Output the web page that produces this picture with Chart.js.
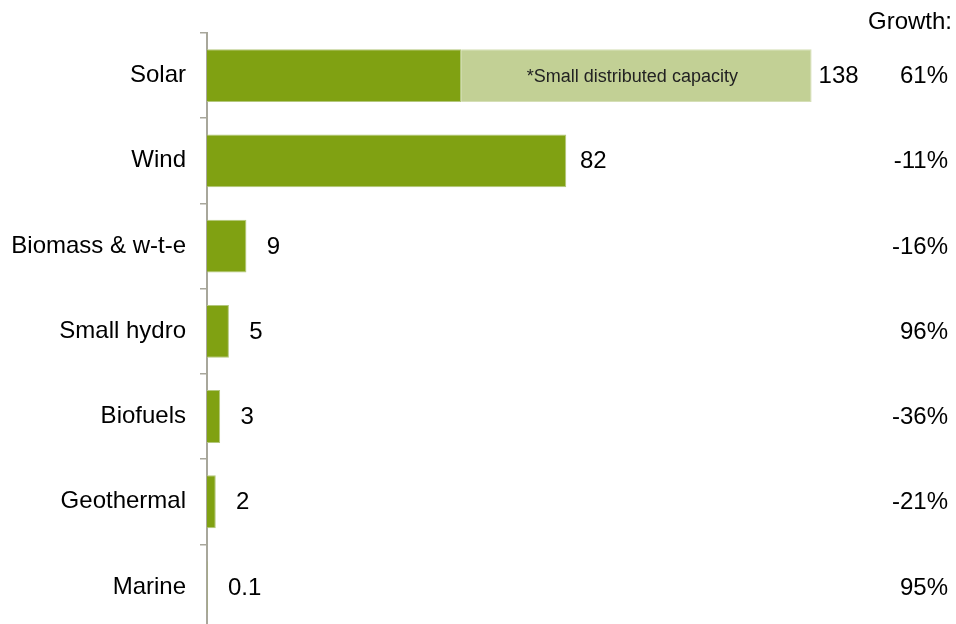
<!DOCTYPE html>
<html>
<head>
<meta charset="utf-8">
<script src="https://cdn.jsdelivr.net/npm/chart.js@4.4.1/dist/chart.umd.min.js"></script>
<style>
  html, body { margin: 0; padding: 0; background: #fff; overflow: hidden; }
  #wrap { width: 956px; height: 624px; overflow: hidden; }
</style>
</head>
<body>
<div id="wrap"><canvas id="chart" width="956" height="658"></canvas></div>
<script>
// 数据
const categories = ['Solar', 'Wind', 'Biomass & w-t-e', 'Small hydro', 'Biofuels', 'Geothermal', 'Marine'];
const mainCapacity = [58, 82, 9, 5, 3, 2, 0.1];
const distributedCapacity = [80, 0, 0, 0, 0, 0, 0];
const totalLabels = ['138', '82', '9', '5', '3', '2', '0.1'];
const growthLabels = ['61%', '-11%', '-16%', '96%', '-36%', '-21%', '95%'];
const distributedNote = '*Small distributed capacity';

const FONT = "'Liberation Sans', Arial, sans-serif";
const AXIS_GREY = '#a8a79b';

// 数值、增长率以及条内说明文字
const labelPlugin = {
    id: 'labels',
    afterDatasetsDraw(chart) {
        const ctx = chart.ctx;
        const x = chart.scales.x;
        const y = chart.scales.y;
        ctx.save();
        ctx.fillStyle = '#000';
        ctx.textBaseline = 'middle';
        ctx.font = '24px ' + FONT;

        for (let i = 0; i < categories.length; i++) {
            const yc = y.getPixelForValue(i);
            const end = x.getPixelForValue(mainCapacity[i] + distributedCapacity[i]);
            const w = ctx.measureText(totalLabels[i]).width;
            const left = Math.max(end + 27 - w / 2, x.left + 21);
            ctx.textAlign = 'left';
            ctx.fillText(totalLabels[i], left, yc + 1);

            ctx.textAlign = 'right';
            ctx.fillText(growthLabels[i], 948, yc + 1);
        }

        // 表头
        ctx.textAlign = 'right';
        ctx.fillText('Growth:', 952, 22);

        // 条内说明
        const meta = chart.getDatasetMeta(1).data[0];
        ctx.font = '18px ' + FONT;
        ctx.fillStyle = '#222';
        ctx.textAlign = 'center';
        ctx.fillText(distributedNote, (meta.base + meta.x) / 2 - 4, meta.y + 1);
        ctx.restore();
    }
};

new Chart(document.getElementById('chart'), {
    type: 'bar',
    data: {
        labels: categories,
        datasets: [{
            data: mainCapacity,
            backgroundColor: '#80a112',
            borderColor: '#b3c77c',
            borderWidth: 1,
            barPercentage: 0.62,
            categoryPercentage: 1
        }, {
            data: distributedCapacity,
            backgroundColor: '#c2d095',
            borderColor: '#d5dfb6',
            borderWidth: 1,
            barPercentage: 0.62,
            categoryPercentage: 1
        }]
    },
    options: {
        indexAxis: 'y',
        responsive: false,
        animation: false,
        layout: { padding: { top: 33, right: 48, bottom: 1, left: 0 } },
        plugins: {
            legend: { display: false },
            tooltip: { enabled: false }
        },
        scales: {
            x: {
                stacked: true,
                display: false,
                min: 0,
                max: 160
            },
            y: {
                stacked: true,
                afterFit(scale) { scale.width = 207; },
                grid: {
                    drawOnChartArea: false,
                    tickLength: 7,
                    color: AXIS_GREY,
                    lineWidth: 1.5
                },
                border: { color: AXIS_GREY, width: 2 },
                ticks: {
                    color: '#000',
                    padding: 14,
                    font: { family: FONT, size: 24 }
                }
            }
        }
    },
    plugins: [labelPlugin]
});
</script>
</body>
</html>
